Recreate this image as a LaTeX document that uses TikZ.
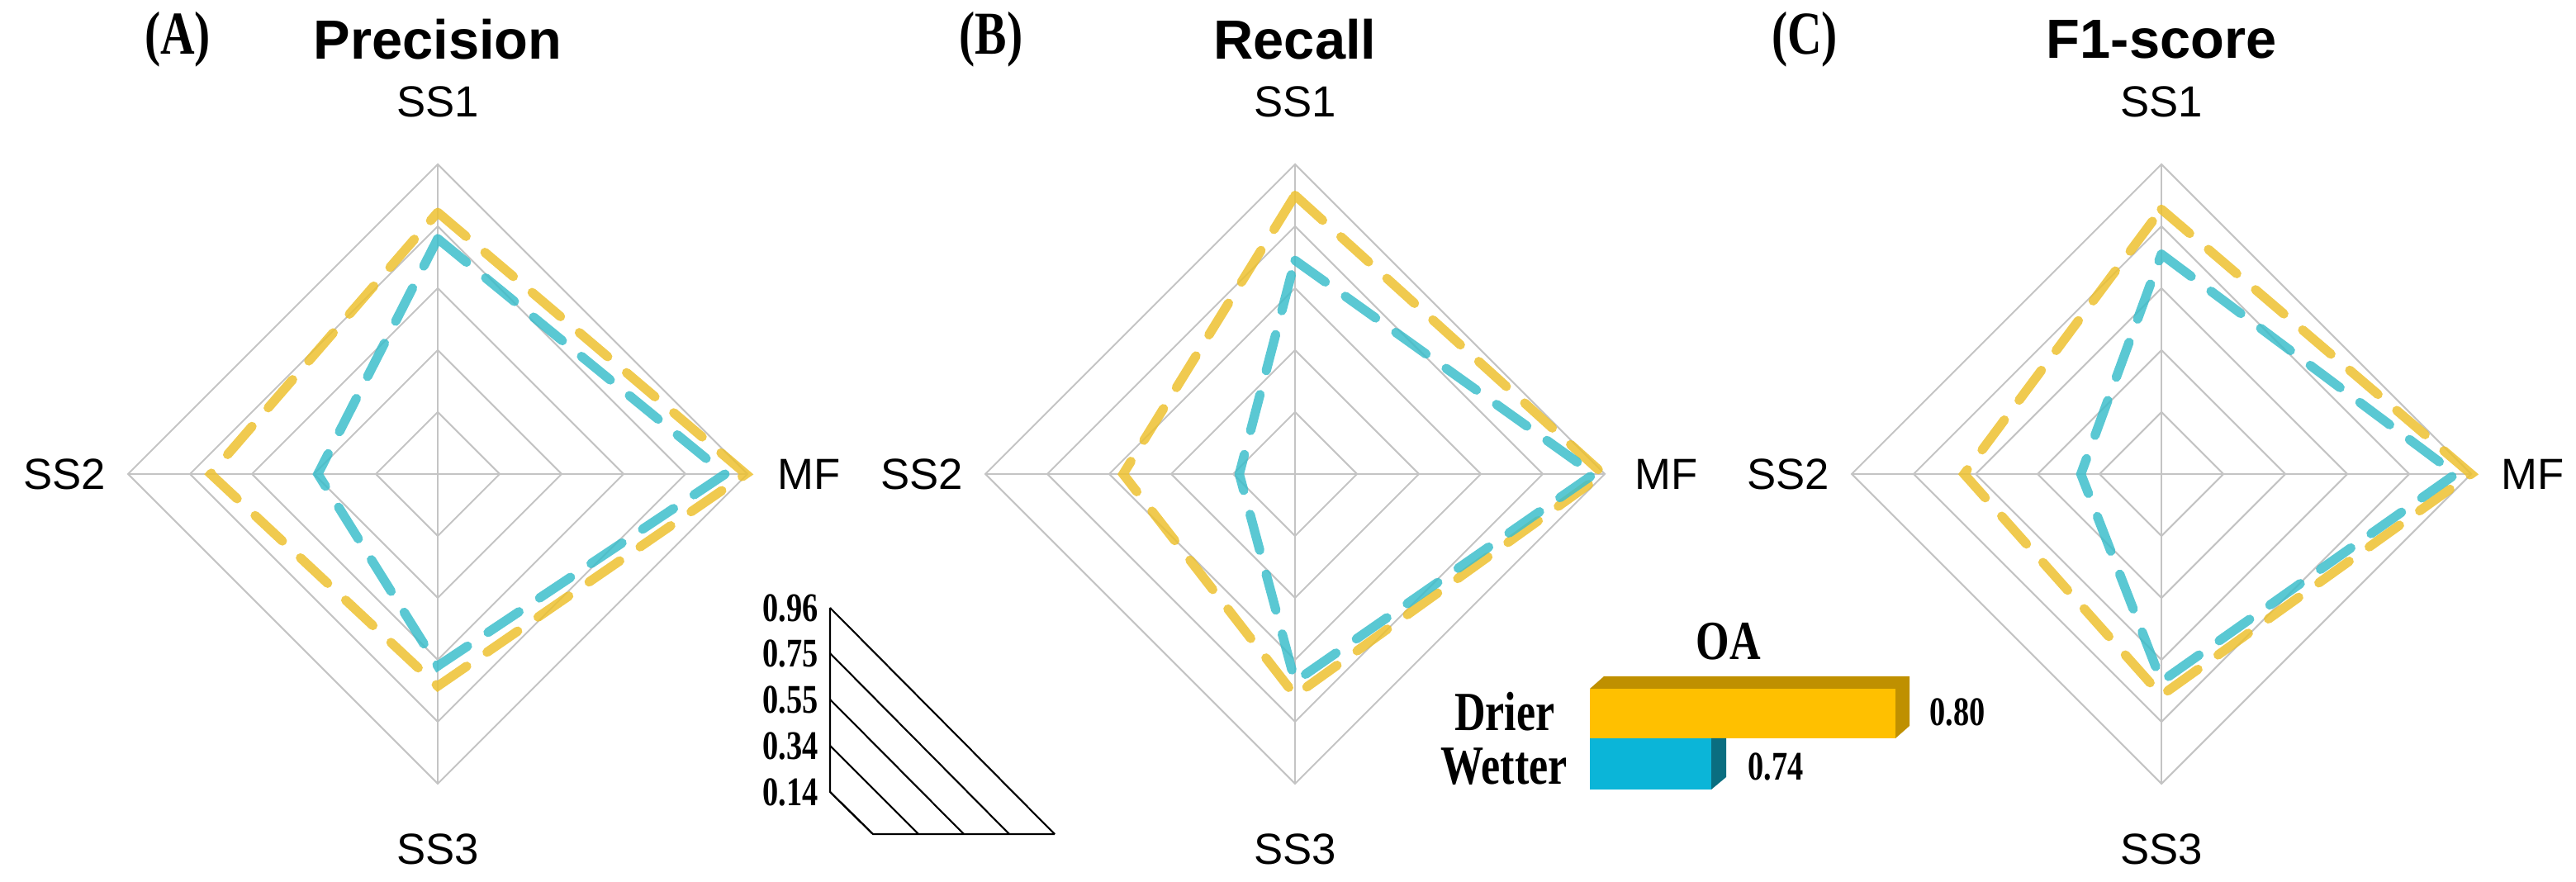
\documentclass[tikz,border=0pt]{standalone}
\usepackage{fontspec}
\setmainfont{Liberation Serif}
\setsansfont{Liberation Sans}
\usetikzlibrary{calc}
\definecolor{drier}{HTML}{EDC130}
\definecolor{wetter}{HTML}{3DBECB}
\definecolor{drierbar}{HTML}{FFC000}
\definecolor{drierside}{HTML}{BF9000}
\definecolor{wetterbar}{HTML}{0BB5D8}
\definecolor{wetterside}{HTML}{0A6E80}
\definecolor{gridgray}{HTML}{C4C4C4}
\newcommand{\narrow}[1]{\scalebox{0.78}[1]{#1}}
\newcommand{\radarchart}[4]{
    {
        % #1 centre, #2 name, #3 drier values, #4 wetter values
        \coordinate (#2c) at (#1);
        \foreach \r in {0.75,1.5,2.25,3,3.75} {
            \draw[gridgray,line width=0.6pt] ($(#2c)+(0,\r)$) -- ($(#2c)+(\r,0)$) -- ($(#2c)+(0,-\r)$) -- ($(#2c)+(-\r,0)$) -- cycle;
        }
        \draw[gridgray,line width=0.6pt] ($(#2c)+(0,3.75)$) -- ($(#2c)+(0,-3.75)$);
        \draw[gridgray,line width=0.6pt] ($(#2c)+(-3.75,0)$) -- ($(#2c)+(3.75,0)$);
        \foreach \a/\b/\cc/\d [count=\k] in {#3} {
            \draw[series,drier] ($(#2c)+(0,3.75*\a)$) -- ($(#2c)+(3.75*\b,0)$) -- ($(#2c)+(0,-3.75*\cc)$) -- ($(#2c)+(-3.75*\d,0)$) -- cycle;
        }
        \foreach \a/\b/\cc/\d [count=\k] in {#4} {
            \draw[series,wetter] ($(#2c)+(0,3.75*\a)$) -- ($(#2c)+(3.75*\b,0)$) -- ($(#2c)+(0,-3.75*\cc)$) -- ($(#2c)+(-3.75*\d,0)$) -- cycle;
        }
        \node[axis] (#2ss1) at ($(#2c)+(0,4.51)$) {SS1};
        \node[axis] (#2mf) at ($(#2c)+(4.50,0)$) {MF};
        \node[axis] (#2ss3) at ($(#2c)+(0,-4.54)$) {SS3};
        \node[axis] (#2ss2) at ($(#2c)+(-4.52,0)$) {SS2};
    }
}

\begin{document}
\begin{tikzpicture}[
    series/.style={line width=3.2pt,line cap=round,dash pattern=on 0.45cm off 0.3cm,opacity=0.85},
    axis/.style={font=\sffamily\fontsize{15}{15}\selectfont},
    title/.style={font=\sffamily\bfseries\fontsize{19}{19}\selectfont},
    panel/.style={font=\bfseries\fontsize{21}{21}\selectfont},
    tick/.style={font=\bfseries\fontsize{14}{14}\selectfont,anchor=east,inner sep=1pt},
    oa/.style={font=\bfseries\fontsize{19}{19}\selectfont},
    val/.style={font=\bfseries\fontsize{14}{14}\selectfont}]
            \path[use as bounding box] (0,0) rectangle (31.19,10.68);

            \radarchart{5.30,4.94}{pa}{0.845/0.995/0.685/0.733}{0.76/0.928/0.62/0.387}
            \radarchart{15.68,4.94}{pb}{0.90/0.995/0.715/0.555}{0.69/0.965/0.67/0.18}
            \radarchart{26.17,4.94}{pc}{0.855/1.0/0.715/0.637}{0.71/0.95/0.67/0.26}

            \node[panel] (labA) at (2.15,10.20) {\narrow{(A)}};
            \node[title] (titA) at (5.30,10.20) {Precision};
            \node[panel] (labB) at (12.00,10.20) {\narrow{(B)}};
            \node[title] (titB) at (15.68,10.20) {Recall};
            \node[panel] (labC) at (21.85,10.20) {\narrow{(C)}};
            \node[title] (titC) at (26.17,10.20) {F1-score};

            % scale key
            \draw[black,line width=0.6pt] (10.05,3.32) -- (10.05,1.09) -- (10.57,0.58) -- (12.77,0.58);
            \foreach \y/\t [count=\k] in {1.09/0.14,1.65/0.34,2.21/0.55,2.77/0.75,3.32/0.96} {
                \node[tick] (tick\k) at (9.95,\y) {\narrow{\t}};
                \draw[black,line width=0.6pt] (10.05,\y) -- ({10.57+0.55*(\k-1)},0.58);
            }

            % overall accuracy bars
            \fill[drierside] (19.25,2.34) -- ++(0.17,0.15) -- (23.12,2.49) -- (23.12,1.89) -- (22.95,1.74) -- (22.95,2.34) -- cycle;
            \fill[drierbar] (19.25,1.74) rectangle (22.95,2.34);
            \fill[wetterside] (20.72,1.74) -- (20.90,1.74) -- (20.90,1.27) -- (20.72,1.12) -- cycle;
            \fill[wetterbar] (19.25,1.12) rectangle (20.72,1.74);
            \node[oa] (oaT) at (20.93,2.91) {\narrow{OA}};
            \node[oa,anchor=east] (oaD) at (18.95,2.06) {\narrow{Drier}};
            \node[oa,anchor=east] (oaW) at (19.10,1.40) {\narrow{Wetter}};
            \node[val] (oaDv) at (23.70,2.06) {\narrow{0.80}};
            \node[val] (oaWv) at (21.50,1.40) {\narrow{0.74}};
        \end{tikzpicture}
\end{document}
